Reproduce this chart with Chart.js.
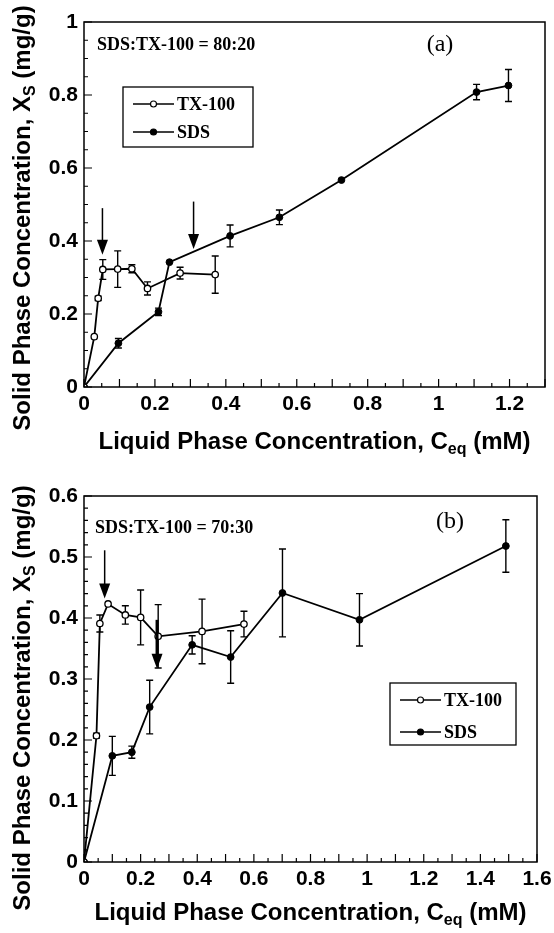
<!DOCTYPE html>
<html>
<head>
<meta charset="utf-8">
<script src="https://cdn.jsdelivr.net/npm/chart.js@4.4.1/dist/chart.umd.min.js"></script>
<style>
  html, body { margin: 0; padding: 0; background: #fff; }
  .panel { position: relative; width: 554px; }
  #panelA { height: 466px; }
  #panelB { height: 467px; }
</style>
</head>
<body>
<div class="panel" id="panelA"><canvas id="chartA"></canvas></div>
<div class="panel" id="panelB"><canvas id="chartB"></canvas></div>
<script>
// (a) SDS:TX-100 = 80:20
const txA_x   = [0, 0.029, 0.040, 0.053, 0.095, 0.135, 0.179, 0.271, 0.370];
const txA_y   = [0, 0.138, 0.243, 0.322, 0.323, 0.324, 0.270, 0.312, 0.308];
const txA_err = [0, 0, 0.006, 0.027, 0.050, 0.011, 0.018, 0.016, 0.051];
const sdsA_x   = [0, 0.097, 0.210, 0.241, 0.412, 0.551, 0.726, 1.107, 1.197];
const sdsA_y   = [0, 0.120, 0.206, 0.342, 0.414, 0.465, 0.567, 0.808, 0.826];
const sdsA_err = [0, 0.013, 0.010, 0, 0.030, 0.020, 0, 0.021, 0.044];

// (b) SDS:TX-100 = 70:30
const txB_x   = [0, 0.044, 0.056, 0.085, 0.146, 0.200, 0.262, 0.417, 0.565];
const txB_y   = [0, 0.207, 0.391, 0.423, 0.405, 0.401, 0.370, 0.378, 0.390];
const txB_err = [0, 0.004, 0.014, 0, 0.015, 0.045, 0.052, 0.053, 0.021];
const sdsB_x   = [0, 0.100, 0.169, 0.232, 0.382, 0.518, 0.701, 0.973, 1.490];
const sdsB_y   = [0, 0.174, 0.180, 0.254, 0.356, 0.336, 0.441, 0.397, 0.518];
const sdsB_err = [0, 0.032, 0.010, 0.044, 0.015, 0.043, 0.072, 0.043, 0.043];

// tick labels
const xTicksA = [0, 0.2, 0.4, 0.6, 0.8, 1, 1.2];
const yTicksA = [0, 0.2, 0.4, 0.6, 0.8, 1];
const xTicksB = [0, 0.2, 0.4, 0.6, 0.8, 1, 1.2, 1.4, 1.6];
const yTicksB = [0, 0.1, 0.2, 0.3, 0.4, 0.5, 0.6];

// arrows: [x, y of tail, y of tip, shaft width]
const arrowsA = [[0.052, 0.49, 0.362, 1.5], [0.309, 0.508, 0.378, 1.5]];
const arrowsB = [[0.073, 0.511, 0.432, 1.5], [0.258, 0.397, 0.317, 3]];

const SANS = "'Liberation Sans', Arial, sans-serif";
const SERIF = "'Liberation Serif', 'Times New Roman', serif";

const pts = (xs, ys) => xs.map((v, i) => ({ x: v, y: ys[i] }));

// text with subscripts: parts = [[text, isSub], ...]
function richWidth(ctx, parts, size) {
  let w = 0;
  parts.forEach(([t, sub]) => {
    ctx.font = `bold ${sub ? Math.round(size * 0.68) : size}px ${SANS}`;
    w += ctx.measureText(t).width;
  });
  return w;
}
function richText(ctx, parts, cx, cy, size) {
  let x = cx - richWidth(ctx, parts, size) / 2;
  ctx.textAlign = 'left';
  ctx.textBaseline = 'middle';
  parts.forEach(([t, sub]) => {
    ctx.font = `bold ${sub ? Math.round(size * 0.68) : size}px ${SANS}`;
    ctx.fillText(t, x, sub ? cy + size * 0.3 : cy);
    x += ctx.measureText(t).width;
  });
}

const decor = {
  id: 'decor',
  beforeDatasetsDraw(chart) {
    const { ctx, scales: { x, y } } = chart;
    ctx.save();
    ctx.strokeStyle = '#000';
    ctx.lineWidth = 1.4;
    chart.data.datasets.forEach(ds => {
      ds.data.forEach((p, i) => {
        const e = ds.errors[i];
        if (!e) return;
        const px = x.getPixelForValue(p.x);
        const y1 = y.getPixelForValue(p.y + e);
        const y2 = y.getPixelForValue(p.y - e);
        ctx.beginPath();
        ctx.moveTo(px, y1); ctx.lineTo(px, y2);
        ctx.moveTo(px - 3.5, y1); ctx.lineTo(px + 3.5, y1);
        ctx.moveTo(px - 3.5, y2); ctx.lineTo(px + 3.5, y2);
        ctx.stroke();
      });
    });
    ctx.restore();
  },
  afterDraw(chart, args, o) {
    const { ctx, chartArea: a, scales: { x, y } } = chart;
    ctx.save();
    ctx.fillStyle = '#000';
    ctx.strokeStyle = '#000';

    // frame
    ctx.lineWidth = 1.5;
    ctx.strokeRect(a.left, a.top, a.right - a.left, a.bottom - a.top);

    // inward tick marks
    ctx.lineWidth = 1.2;
    ctx.beginPath();
    let n = Math.round((x.max - x.min) / o.xMinor);
    for (let i = 0; i <= n; i++) {
      const p = x.getPixelForValue(x.min + i * o.xMinor);
      const len = i % o.xMajorEvery === 0 ? 8 : 4;
      ctx.moveTo(p, a.bottom); ctx.lineTo(p, a.bottom - len);
    }
    n = Math.round((y.max - y.min) / o.yMinor);
    for (let i = 0; i <= n; i++) {
      const p = y.getPixelForValue(y.min + i * o.yMinor);
      const len = i % o.yMajorEvery === 0 ? 8 : 4;
      ctx.moveTo(a.left, p); ctx.lineTo(a.left + len, p);
    }
    ctx.stroke();

    // arrows
    o.arrows.forEach(([ax, yTail, yTip, w]) => {
      const px = x.getPixelForValue(ax);
      const t0 = y.getPixelForValue(yTail);
      const t1 = y.getPixelForValue(yTip);
      ctx.lineWidth = w;
      ctx.beginPath();
      ctx.moveTo(px, t0); ctx.lineTo(px, t1 - 12);
      ctx.stroke();
      ctx.beginPath();
      ctx.moveTo(px - 5.5, t1 - 15);
      ctx.lineTo(px + 5.5, t1 - 15);
      ctx.lineTo(px, t1);
      ctx.closePath();
      ctx.fill();
    });

    // annotations
    ctx.textBaseline = 'middle';
    ctx.textAlign = 'left';
    ctx.font = `bold 18px ${SERIF}`;
    ctx.fillText(o.note, o.noteX, o.noteY);
    ctx.textAlign = 'center';
    ctx.font = `24px ${SERIF}`;
    ctx.fillText(o.tag, o.tagX, o.tagY);

    // legend
    const L = o.legend;
    ctx.lineWidth = 1.3;
    ctx.strokeRect(L.x, L.y, L.w, L.h);
    chart.data.datasets.forEach((ds, i) => {
      const ey = L.y + L.rows[i];
      ctx.lineWidth = 1.6;
      ctx.beginPath();
      ctx.moveTo(L.x + 10, ey); ctx.lineTo(L.x + 51, ey);
      ctx.stroke();
      ctx.beginPath();
      ctx.arc(L.x + 30.5, ey, 3, 0, Math.PI * 2);
      ctx.fillStyle = ds.pointBackgroundColor;
      ctx.fill();
      ctx.lineWidth = 1.2;
      ctx.stroke();
      ctx.fillStyle = '#000';
      ctx.textAlign = 'left';
      ctx.font = `bold 18px ${SERIF}`;
      ctx.fillText(ds.label, L.x + 54, ey + 1);
    });

    // axis titles
    richText(ctx, [['Liquid Phase Concentration, C', false], ['eq', true], [' (mM)', false]],
      (a.left + a.right) / 2, o.xTitleY, 24);
    ctx.save();
    ctx.translate(23, o.yTitleY);
    ctx.rotate(-Math.PI / 2);
    richText(ctx, [['Solid Phase Concentration, X', false], ['S', true], [' (mg/g)', false]], 0, 0, 24);
    ctx.restore();

    ctx.restore();
  }
};

function makePanel(id, tx, sds, o) {
  const tickFont = { family: SANS, weight: 'bold', size: 21 };
  const fmt = v => String(+(+v).toFixed(1));
  return new Chart(document.getElementById(id), {
    type: 'scatter',
    data: {
      datasets: [
        { label: 'TX-100', data: tx.data, errors: tx.err, showLine: true,
          borderColor: '#000', borderWidth: 1.8, pointRadius: 3.2,
          pointBackgroundColor: '#fff', pointBorderColor: '#000', pointBorderWidth: 1.3 },
        { label: 'SDS', data: sds.data, errors: sds.err, showLine: true,
          borderColor: '#000', borderWidth: 1.8, pointRadius: 3.4,
          pointBackgroundColor: '#000', pointBorderColor: '#000', pointBorderWidth: 1 }
      ]
    },
    options: {
      responsive: true,
      maintainAspectRatio: false,
      animation: false,
      layout: { padding: { top: o.padTop, right: o.padRight, left: 0, bottom: 0 } },
      plugins: { legend: { display: false }, tooltip: { enabled: false }, decor: o },
      scales: {
        x: {
          type: 'linear', min: 0, max: o.xMax,
          grid: { display: false, drawTicks: false },
          border: { display: false },
          ticks: { color: '#000', font: tickFont, padding: 5, maxRotation: 0, includeBounds: false, callback: fmt },
          afterBuildTicks: s => { s.ticks = o.xTicks.map(v => ({ value: v })); },
          afterFit: s => { s.height = o.xAxisH; s.paddingLeft = 0; s.paddingRight = 0; }
        },
        y: {
          type: 'linear', min: 0, max: o.yMax,
          grid: { display: false, drawTicks: false },
          border: { display: false },
          ticks: { color: '#000', font: tickFont, padding: 6, includeBounds: false, callback: fmt },
          afterBuildTicks: s => { s.ticks = o.yTicks.map(v => ({ value: v })); },
          afterFit: s => { s.width = 84; s.paddingTop = 0; s.paddingBottom = 0; }
        }
      }
    },
    plugins: [decor]
  });
}

makePanel('chartA',
  { data: pts(txA_x, txA_y), err: txA_err },
  { data: pts(sdsA_x, sdsA_y), err: sdsA_err },
  {
    xMax: 1.3, yMax: 1, xTicks: xTicksA, yTicks: yTicksA,
    xMinor: 0.05, xMajorEvery: 2, yMinor: 0.05, yMajorEvery: 4,
    padTop: 22, padRight: 9, xAxisH: 79,
    note: 'SDS:TX-100 = 80:20', noteX: 97, noteY: 45,
    tag: '(a)', tagX: 440, tagY: 45,
    legend: { x: 123, y: 87, w: 130, h: 60, rows: [17, 45] },
    arrows: arrowsA,
    xTitleY: 442, yTitleY: 218
  });

makePanel('chartB',
  { data: pts(txB_x, txB_y), err: txB_err },
  { data: pts(sdsB_x, sdsB_y), err: sdsB_err },
  {
    xMax: 1.6, yMax: 0.6, xTicks: xTicksB, yTicks: yTicksB,
    xMinor: 0.05, xMajorEvery: 2, yMinor: 0.02, yMajorEvery: 5,
    padTop: 30, padRight: 17, xAxisH: 71,
    note: 'SDS:TX-100 = 70:30', noteX: 95, noteY: 62,
    tag: '(b)', tagX: 450, tagY: 56,
    legend: { x: 390, y: 217, w: 126, h: 62, rows: [17, 49] },
    arrows: arrowsB,
    xTitleY: 447, yTitleY: 232
  });
</script>
</body>
</html>
